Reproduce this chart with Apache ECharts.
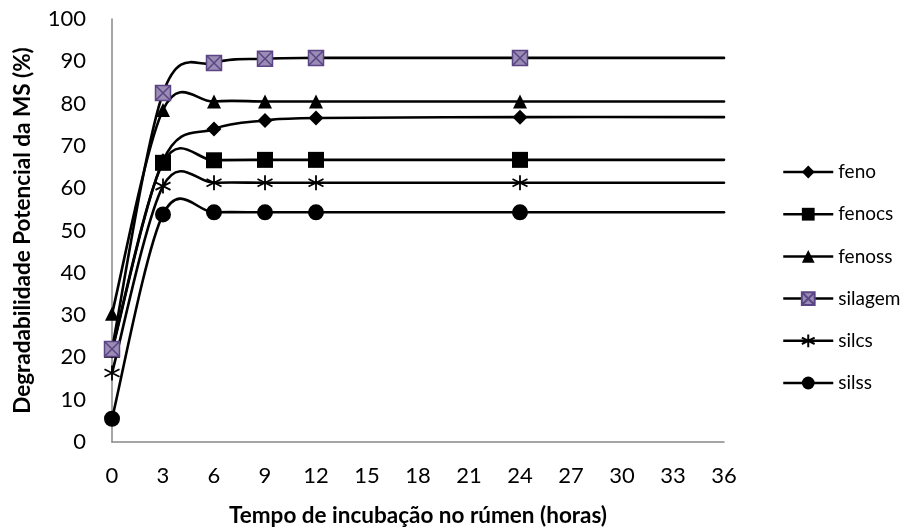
<!DOCTYPE html>
<html>
<head>
<meta charset="utf-8">
<script src="https://cdn.jsdelivr.net/npm/echarts@6/dist/echarts.min.js"></script>
<style>
html,body{margin:0;padding:0;background:#fff;}
#chart{width:906px;height:532px;}
</style>
</head>
<body>
<div id="chart"></div>
<script>
var hours = [0, 3, 6, 9, 12, 24, 36];
var seriesNames = ['feno', 'fenocs', 'fenoss', 'silagem', 'silcs', 'silss'];
var feno    = [21.5, 66.5, 74.0, 76.0, 76.6, 76.8, 76.8];
var fenocs  = [21.8, 66.0, 66.6, 66.7, 66.7, 66.7, 66.7];
var fenoss  = [30.3, 78.5, 80.5, 80.5, 80.5, 80.5, 80.5];
var silagem = [22.0, 82.5, 89.6, 90.6, 90.8, 90.8, 90.8];
var silcs   = [16.3, 60.5, 61.3, 61.3, 61.3, 61.3, 61.3];
var silss   = [5.5, 53.8, 54.3, 54.3, 54.3, 54.3, 54.3];
var values = [feno, fenocs, fenoss, silagem, silcs, silss];
var xTicks = [0, 3, 6, 9, 12, 15, 18, 21, 24, 27, 30, 33, 36];
var yTicks = [0, 10, 20, 30, 40, 50, 60, 70, 80, 90, 100];

var FONT = 'Lato, "Open Sans", sans-serif';

var symbols = {
  feno:    {symbol: 'diamond', size: 15, style: {color: '#000'}},
  fenocs:  {symbol: 'rect', size: 16, style: {color: '#000'}},
  fenoss:  {symbol: 'triangle', size: 14, style: {color: '#000'}},
  silagem: {symbol: 'path://M0,0L10,0L10,10L0,10ZM0,0L10,10M10,0L0,10', size: 15,
            style: {color: '#9a8db5', borderColor: '#5b4585', borderWidth: 1.5}},
  silcs:   {symbol: 'path://M5,0L5,10M0.7,2.5L9.3,7.5M9.3,2.5L0.7,7.5', size: 15,
            style: {color: 'none', borderColor: '#000', borderWidth: 1.8}},
  silss:   {symbol: 'circle', size: 16, style: {color: '#000'}}
};

// Smoothed curve (Excel-like Catmull-Rom Bezier) drawn from the data via the axis scales
function makeCurveRenderer(arr) {
  return function (params, api) {
    var i = params.dataIndex;
    var n = hours.length;
    if (i >= n - 1) { return null; }
    function P(k) {
      k = Math.max(0, Math.min(n - 1, k));
      return api.coord([hours[k], arr[k]]);
    }
    var p0 = P(i - 1), p1 = P(i), p2 = P(i + 1), p3 = P(i + 2);
    return {
      type: 'bezierCurve',
      shape: {
        x1: p1[0], y1: p1[1], x2: p2[0], y2: p2[1],
        cpx1: p1[0] + (p2[0] - p0[0]) / 6, cpy1: p1[1] + (p2[1] - p0[1]) / 6,
        cpx2: p2[0] - (p3[0] - p1[0]) / 6, cpy2: p2[1] - (p3[1] - p1[1]) / 6
      },
      style: {stroke: '#000', lineWidth: 2.6, fill: null, lineCap: 'round'},
      silent: true
    };
  };
}

var series = [];
seriesNames.forEach(function (name, i) {
  var s = symbols[name];
  var data = hours.map(function (h, j) {
    var d = {value: [h, values[i][j]]};
    if (h === 36) { d.symbol = 'none'; }
    return d;
  });
  series.push({
    name: name,
    type: 'line',
    data: data,
    symbol: s.symbol,
    symbolSize: s.size,
    showAllSymbol: true,
    lineStyle: {color: '#000', width: 2.5, opacity: 0},
    itemStyle: Object.assign({opacity: 1}, s.style),
    emphasis: {disabled: true},
    animation: false,
    z: 10 + i
  });
});
seriesNames.forEach(function (name, i) {
  series.push({
    name: 'curve_' + name,
    type: 'custom',
    data: hours.map(function (h, j) { return [h, values[i][j]]; }),
    encode: {x: 0, y: 1},
    renderItem: makeCurveRenderer(values[i]),
    silent: true,
    animation: false,
    z: 2 + i
  });
});

var chart = echarts.init(document.getElementById('chart'), null, {renderer: 'canvas'});
chart.setOption({
  animation: false,
  backgroundColor: '#fff',
  grid: {left: 112, right: 182, top: 19, bottom: 90, containLabel: false},
  legend: {
    orient: 'vertical',
    left: 777,
    top: 157,
    itemWidth: 50,
    itemHeight: 16,
    itemGap: 22.2,
    lineStyle: {color: '#000', width: 2.5, opacity: 1},
    textStyle: {fontFamily: FONT, fontSize: 19, lineHeight: 20, color: '#000'},
    data: seriesNames
  },
  xAxis: {
    type: 'value',
    min: 0,
    max: 36,
    interval: 3,
    name: 'Tempo de incubação no rúmen (horas)',
    nameLocation: 'middle',
    nameGap: 62,
    nameTextStyle: {fontFamily: FONT, fontSize: 22.5, fontWeight: 'bold', color: '#000'},
    axisLine: {show: true, lineStyle: {color: '#888', width: 1.5}},
    axisTick: {show: false},
    splitLine: {show: false},
    axisLabel: {fontFamily: FONT, fontSize: 22, color: '#000', margin: 23,
      formatter: function (v) { return xTicks.indexOf(v) >= 0 ? String(v) : ''; }}
  },
  yAxis: {
    type: 'value',
    min: 0,
    max: 100,
    interval: 10,
    name: 'Degradabilidade Potencial da MS (%)',
    nameLocation: 'middle',
    nameGap: 78,
    nameRotate: 90,
    nameTextStyle: {fontFamily: FONT, fontSize: 22.5, fontWeight: 'bold', color: '#000'},
    axisLine: {show: true, lineStyle: {color: '#888', width: 1.5}},
    axisTick: {show: false},
    splitLine: {show: false},
    axisLabel: {fontFamily: FONT, fontSize: 22, color: '#000', margin: 26,
      formatter: function (v) { return yTicks.indexOf(v) >= 0 ? String(v) : ''; }}
  },
  series: series
});
</script>
</body>
</html>
